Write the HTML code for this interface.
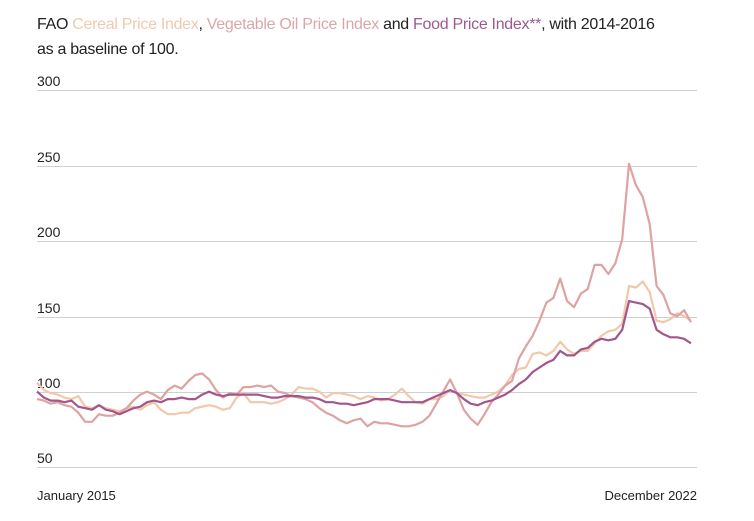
<!DOCTYPE html>
<html><head><meta charset="utf-8"><style>
body{margin:0;background:#fff;width:754px;height:521px;overflow:hidden;font-family:"Liberation Sans",sans-serif}
.t{position:absolute;left:37px;top:12px;font-size:16px;line-height:25px;color:#222;letter-spacing:-0.3px}
</style></head><body>
<div class="t">FAO <span style="color:#efc9b0">Cereal Price Index</span>, <span style="color:#dba6a9">Vegetable Oil Price Index</span> and <span style="color:#9c5a8e">Food Price Index**</span>, with 2014-2016<br>as a baseline of 100.</div>
<svg width="754" height="521" style="position:absolute;left:0;top:0" id="s">
<g stroke="#cfcfcf" stroke-width="1">
<line x1="37" x2="697" y1="90.5" y2="90.5"/><line x1="37" x2="697" y1="166.5" y2="166.5"/><line x1="37" x2="697" y1="241.5" y2="241.5"/><line x1="37" x2="697" y1="317.5" y2="317.5"/><line x1="37" x2="697" y1="392.5" y2="392.5"/><line x1="37" x2="697" y1="467.5" y2="467.5"/>
</g>
<g font-size="14" fill="#222" font-family="Liberation Sans,sans-serif">
<text x="37" y="86">300</text><text x="37" y="162">250</text><text x="37" y="237">200</text><text x="37" y="313">150</text><text x="37" y="388">100</text><text x="37" y="463">50</text>
<text x="37" y="500" font-size="13">January 2015</text><text x="697" y="500" font-size="13" text-anchor="end">December 2022</text>
</g>
<g fill="none" stroke-width="2.2" stroke-linejoin="round" id="lines"></g>
</svg>
<script>
var food=[100,96,94,94,93,94,90,89,88,91,88,87,85,87,89,90,93,94,93,95,95,96,95,95,98,100,98,97,98,98,98,98,98,97,96,96,97,97,97,96,96,95,93,93,92,92,91,92,93,95,95,95,94,93,93,93,93,95,97,99,101,99,95,92,91,93,94,96,98,101,105,108,113,116,119,121,127,124,124,128,129,133,135,134,135,141,160,159,158,155,141,138,136,136,135,132];
var cer=[106,101,99,98,96,95,97,90,89,91,89,88,87,89,90,88,91,93,88,85,85,86,86,89,90,91,90,88,89,96,99,93,93,93,92,93,95,98,103,102,102,100,96,99,99,98,97,95,97,96,94,95,98,102,97,93,92,95,95,97,101,99,98,97,96,96,98,100,104,111,115,116,125,126,124,127,133,128,125,127,127,132,137,140,141,145,170,169,173,166,147,146,148,152,150,147];
var oil=[95,94,92,93,91,90,86,80,80,85,84,84,86,89,94,98,100,98,95,101,104,102,107,111,112,108,101,96,99,98,103,103,104,103,104,100,99,97,96,95,93,89,86,84,81,79,81,82,77,80,79,79,78,77,77,78,80,84,92,100,108,99,88,82,78,85,93,98,104,107,122,130,137,147,159,162,175,160,156,165,168,184,184,178,185,201,251,237,229,211,170,164,152,150,154,146];
function P(d){return d.map(function(v,i){return (37+i*654/95).toFixed(1)+","+(90+(300-v)*1.508).toFixed(1)}).join(" ")}
var g=document.getElementById("lines");
g.innerHTML='<polyline stroke="#f1c8ab" points="'+P(cer)+'"/><polyline stroke="#dea2a3" points="'+P(oil)+'"/><polyline stroke="#a4558c" points="'+P(food)+'"/>';
</script>
</body></html>
